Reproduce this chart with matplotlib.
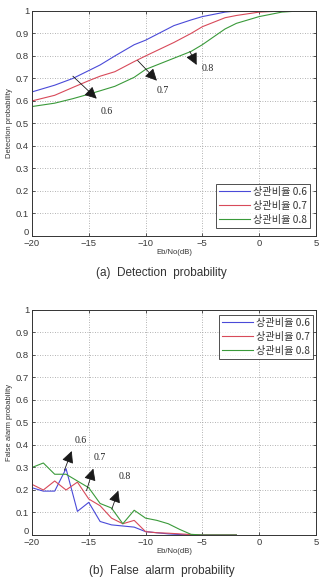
import matplotlib
matplotlib.use("Agg")
import matplotlib.pyplot as plt
from matplotlib.ticker import MultipleLocator
import matplotlib.transforms as mtransforms

plt.rcParams['font.family'] = ['Liberation Sans', 'Noto Sans CJK KR', 'DejaVu Sans']

# ---- Data: detection probability ----
det_x = [-20, -18, -16.4, -15, -14, -12.7, -11, -10, -7.5, -6, -5, -3, -2, 0, 2, 3.5, 5]
det_06 = [0.64, 0.67, 0.70, 0.735, 0.76, 0.80, 0.85, 0.87, 0.935, 0.96, 0.975, 0.995, 1.0, 1.0, 1.0, 1.0, 1.0]
det_07 = [0.60, 0.625, 0.66, 0.69, 0.71, 0.73, 0.775, 0.80, 0.86, 0.90, 0.93, 0.97, 0.98, 0.995, 1.0, 1.0, 1.0]
det_08 = [0.575, 0.59, 0.61, 0.63, 0.645, 0.665, 0.705, 0.74, 0.79, 0.82, 0.85, 0.92, 0.945, 0.975, 0.995, 1.0, 1.0]

# ---- Data: false alarm probability ----
fa_x = [-20, -19, -18, -17, -16, -15, -14, -13, -12, -11, -10, -9, -8, -7, -6, -5, -4, -3, -2]
fa_06 = [0.21, 0.195, 0.195, 0.295, 0.105, 0.145, 0.06, 0.045, 0.04, 0.035, 0.015, 0.01, 0.005, 0.002, 0.0, 0.0, 0.0, 0.0, 0.0]
fa_07 = [0.225, 0.20, 0.24, 0.20, 0.235, 0.16, 0.13, 0.075, 0.05, 0.065, 0.015, 0.01, 0.008, 0.005, 0.002, 0.0, 0.0, 0.0, 0.0]
fa_08 = [0.30, 0.32, 0.27, 0.27, 0.24, 0.21, 0.14, 0.12, 0.05, 0.11, 0.075, 0.065, 0.05, 0.025, 0.003, 0.0, 0.0, 0.0, 0.0]

legend_labels = ['상관비율 0.6', '상관비율 0.7', '상관비율 0.8']
colors = ['#4a4ad8', '#d84a5a', '#3a9a3a']
ytick_labels = ['0', '0.1', '0.2', '0.3', '0.4', '0.5', '0.6', '0.7', '0.8', '0.9', '1']

# annotations: (label, tail xy, head xy, text xy)
det_arrows = [('0.6', (-16.4, 0.71), (-14.3, 0.61), (-13.4, 0.555)),
              ('0.7', (-10.7, 0.78), (-9.0, 0.69), (-8.5, 0.645)),
              ('0.8', (-6.1, 0.82), (-5.5, 0.76), (-4.5, 0.745))]
fa_arrows = [('0.6', (-17.15, 0.287), (-16.5, 0.373), (-15.7, 0.42)),
             ('0.7', (-15.2, 0.197), (-14.6, 0.295), (-14.0, 0.345)),
             ('0.8', (-12.97, 0.115), (-12.4, 0.197), (-11.8, 0.26))]

fig = plt.figure(figsize=(3.23, 5.78), dpi=100)
ax1 = fig.add_axes([0.099, 0.592, 0.879, 0.389])
ax2 = fig.add_axes([0.099, 0.0744, 0.879, 0.3893])

def style(ax, ylabel):
    ax.set_xlim(-20, 5)
    ax.set_ylim(0, 1)
    ax.xaxis.set_major_locator(MultipleLocator(5))
    ax.set_yticks([i / 10 for i in range(11)])
    ax.set_yticklabels(ytick_labels)
    ax.grid(True, linestyle=(0, (1, 2)), color='#9a9a9a', linewidth=0.6)
    ax.tick_params(direction='in', length=2.5, width=0.6, labelsize=6.8, colors='#3a3a3a',
                   top=True, right=True, pad=2)
    for s in ax.spines.values():
        s.set_linewidth(0.7)
        s.set_color('#333333')
    ax.set_xlabel('Eb/No(dB)', fontsize=5.5, color='#333333', labelpad=1)
    ax.set_ylabel(ylabel, fontsize=5.5, color='#333333', labelpad=2)
    # MATLAB-style: the "0" y label sits just above the x axis
    lab0 = ax.get_yticklabels()[0]
    lab0.set_transform(lab0.get_transform() + mtransforms.ScaledTranslation(0, 3 / 72, fig.dpi_scale_trans))

for ys, c, lab in zip([det_06, det_07, det_08], colors, legend_labels):
    ax1.plot(det_x, ys, color=c, lw=0.8, label=lab)
for ys, c, lab in zip([fa_06, fa_07, fa_08], colors, legend_labels):
    ax2.plot(fa_x, ys, color=c, lw=0.8, label=lab)

style(ax1, 'Detection probability')
style(ax2, 'False alarm probability')

for ax, arrows in [(ax1, det_arrows), (ax2, fa_arrows)]:
    for lab, tail, head, txt in arrows:
        ax.annotate('', xy=head, xytext=tail,
                    arrowprops=dict(arrowstyle='-|>,head_length=0.6,head_width=0.3', color='#1a1a1a',
                                    lw=0.6, mutation_scale=12, shrinkA=0, shrinkB=0))
        ax.text(txt[0], txt[1], lab, fontsize=7, family='Liberation Serif',
                ha='center', va='center', color='#222222')

for ax, loc, anchor in [(ax1, 'lower right', (0.979, 0.036)), (ax2, 'upper right', (0.989, 0.978))]:
    leg = ax.legend(loc=loc, bbox_to_anchor=anchor, fontsize=7.3,
                    frameon=True, fancybox=False, borderpad=0.3, labelspacing=0.38,
                    handlelength=3.0, handletextpad=0.3, borderaxespad=0)
    leg.get_frame().set_edgecolor('#222222')
    leg.get_frame().set_linewidth(0.7)
    for t in leg.get_texts():
        t.set_family(['Noto Sans CJK KR', 'DejaVu Sans'])
        t.set_color('#333333')

fig.text(0.5, 1 - 273 / 578, '(a)  Detection  probability', ha='center', va='center',
         fontsize=8.5, color='#333333')
fig.text(0.5, 1 - 571 / 578, '(b)  False  alarm  probability', ha='center', va='center',
         fontsize=8.5, color='#333333')

fig.savefig('out.png', dpi=100)
